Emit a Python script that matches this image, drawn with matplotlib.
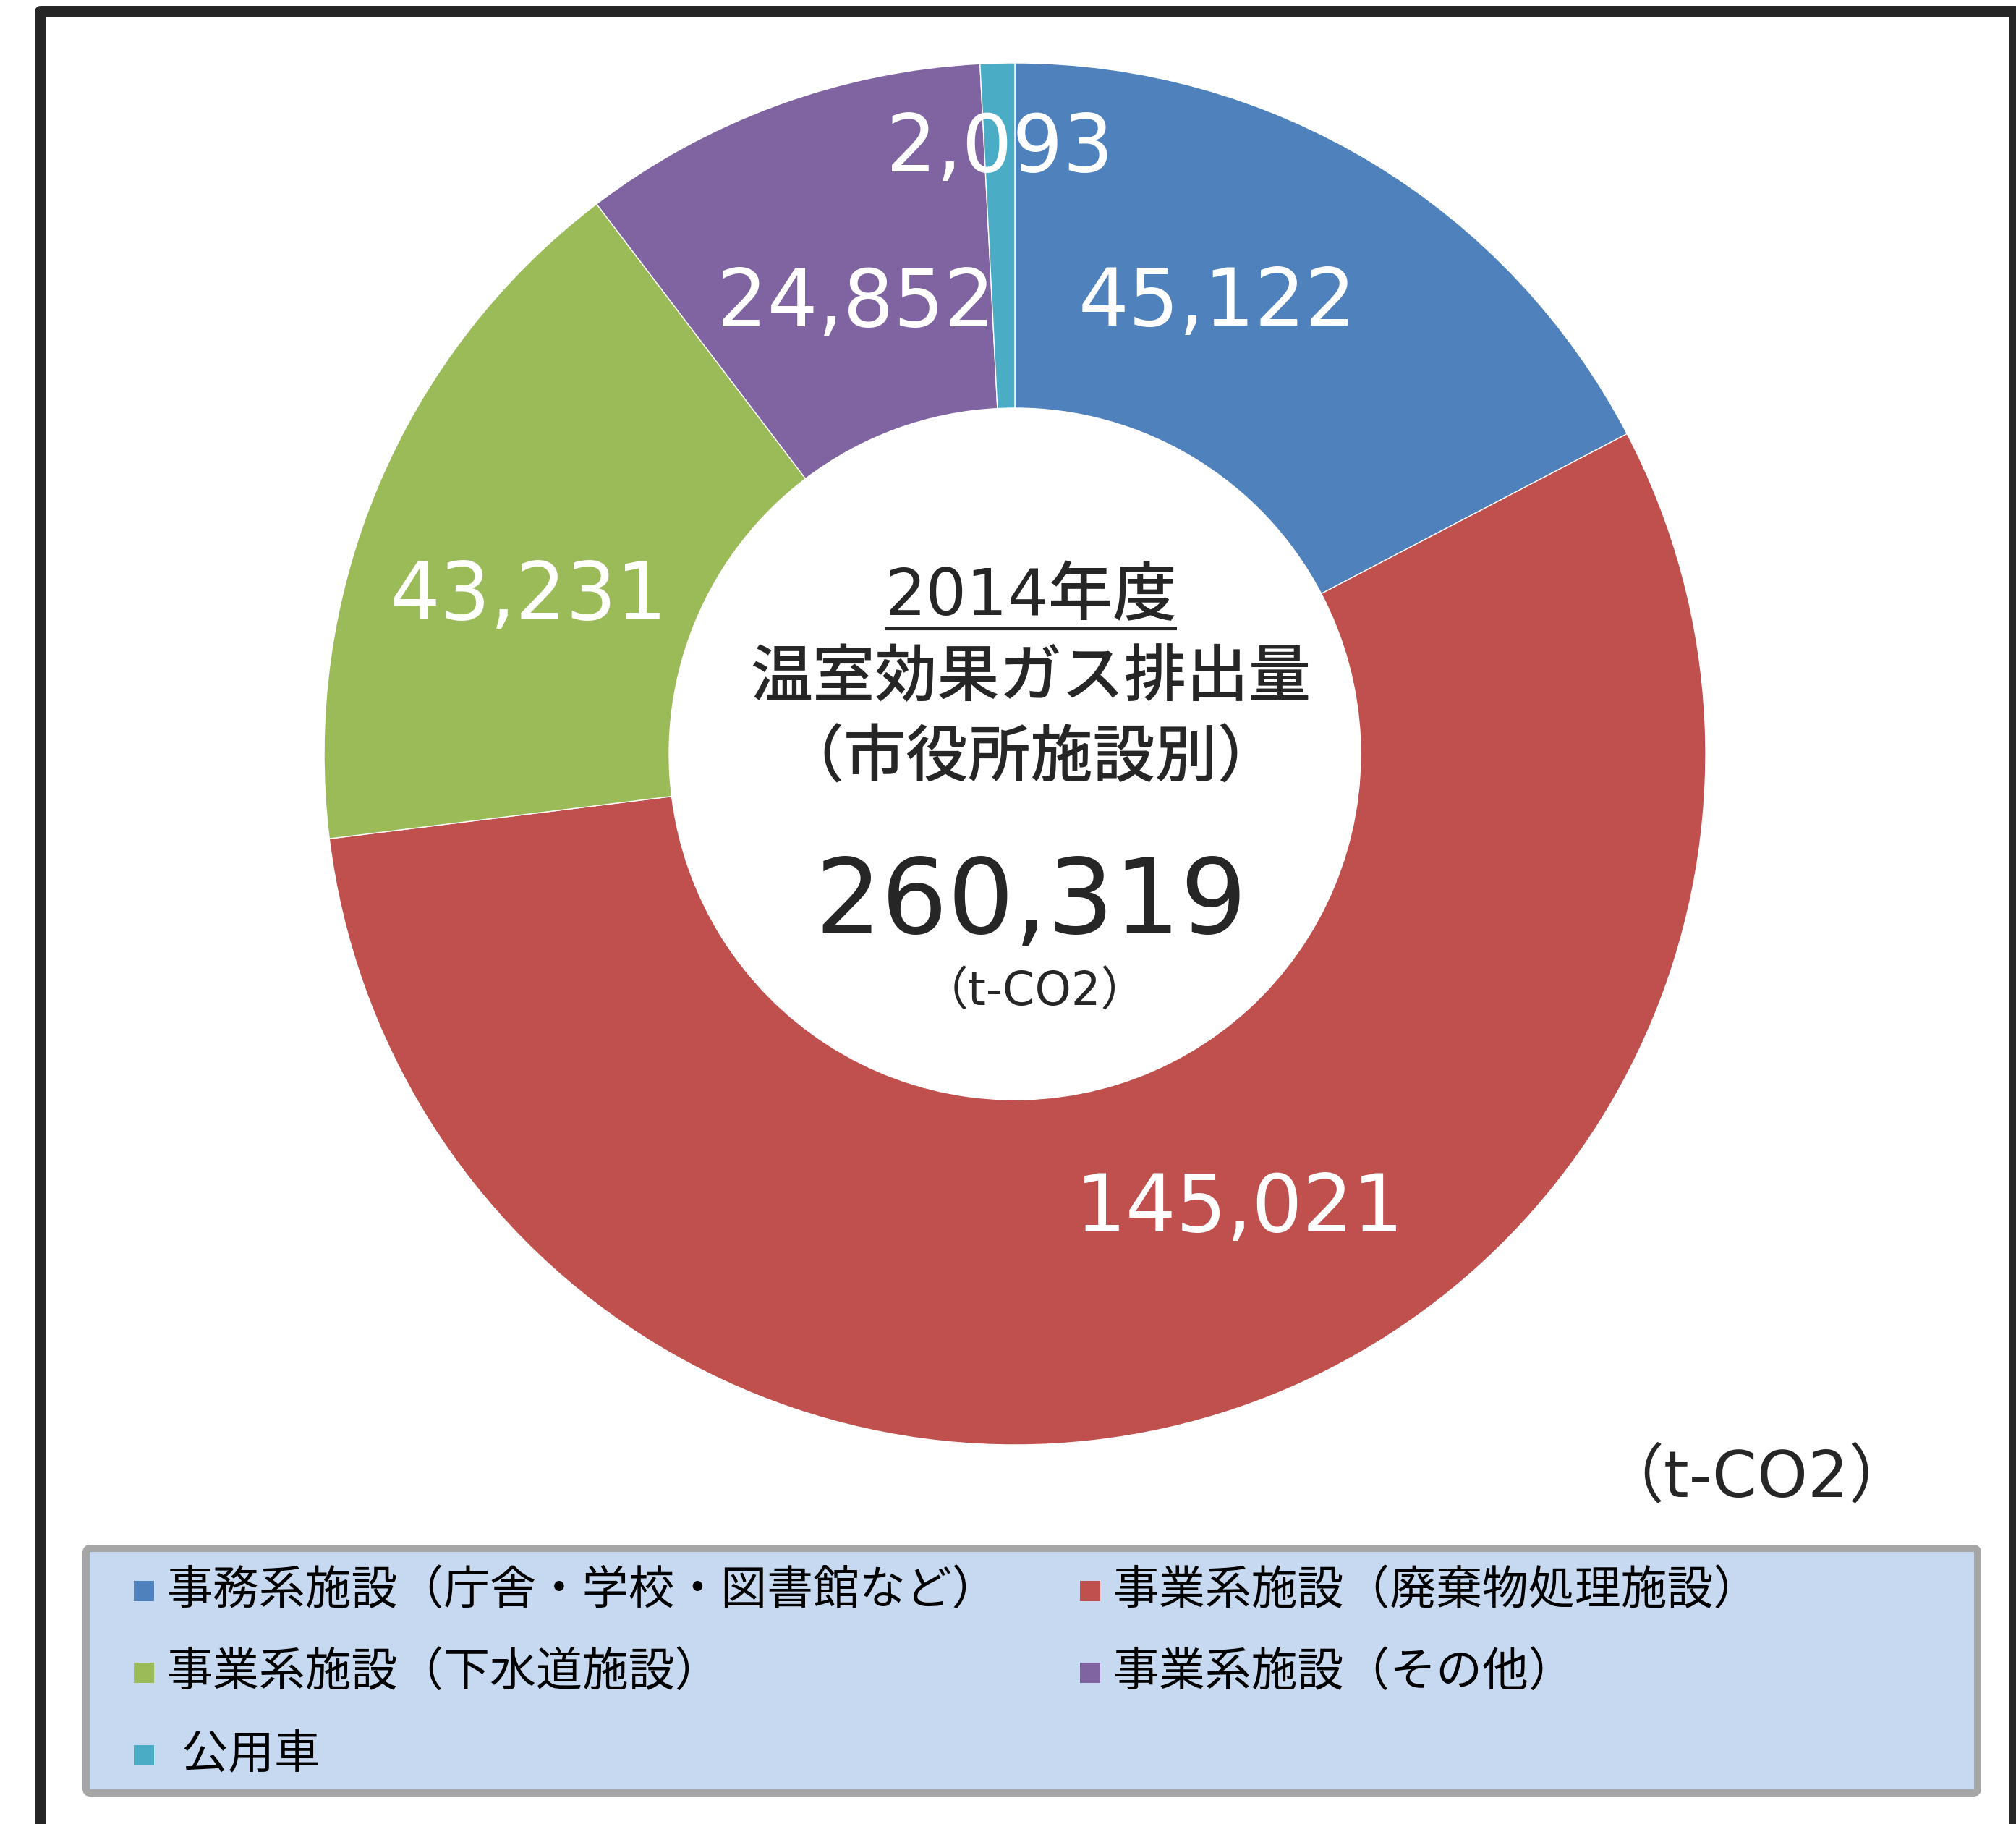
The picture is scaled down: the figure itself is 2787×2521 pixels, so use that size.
import matplotlib
matplotlib.use('Agg')
import matplotlib.pyplot as plt
from matplotlib.patches import Rectangle, FancyBboxPatch
import numpy as np

# data
categories = ['事務系施設（庁舎・学校・図書館など）', '事業系施設（廃棄物処理施設）',
              '事業系施設（下水道施設）', '事業系施設（その他）', ' 公用車']
values = [45122, 145021, 43231, 24852, 2093]
colors = ['#4f81bd', '#c0504d', '#9bbb59', '#8064a2', '#4bacc6']
year_title = '2014年度'
title_lines = ['温室効果ガス排出量', '（市役所施設別）']
unit = '（t-CO2）'

plt.rcParams['font.family'] = ['DejaVu Sans', 'Noto Sans CJK JP']
TXT = '#262626'

W, H = 2787, 2521
fig = plt.figure(figsize=(W / 100, H / 100), dpi=100)
ax = fig.add_axes([0, 0, 1, 1])


def Y(y):
    # pixel rows counted from the top
    return H - y


# doughnut
cx, cy = 1403, 1042
R, r_in = 955, 478
ax.pie(values, colors=colors, startangle=90, counterclock=False, radius=R,
       center=(cx, Y(cy)),
       wedgeprops=dict(width=R - r_in, edgecolor='white', linewidth=1.0))

# value labels (small nudges like the hand placed ones in the original)
label_shift = [-7, -9, -5, 0.6, 0]
label_r = [0.715, 0.735, 0.74, 0.69, 0.875]
total = sum(values)
cum = 0
for v, sh, rr in zip(values, label_shift, label_r):
    a = np.deg2rad(360 * (cum + v / 2) / total + sh)
    cum += v
    ax.text(cx + rr * R * np.sin(a), Y(cy) + rr * R * np.cos(a), f'{v:,}',
            ha='center', va='center', color='white', fontsize=79)

# centre text
tx = 1425
t_year = ax.text(tx, Y(826), year_title, ha='center', va='center',
                 fontsize=64, color=TXT, fontweight='medium')
ax.text(tx, Y(939), title_lines[0], ha='center', va='center', fontsize=62,
        color=TXT, fontweight='medium')
ax.text(tx, Y(1050), title_lines[1], ha='center', va='center', fontsize=62,
        color=TXT, fontweight='medium')
ax.text(tx, Y(1250), f'{total:,}', ha='center', va='center', fontsize=104, color=TXT)
ax.text(tx + 5, Y(1371), unit, ha='center', va='center', fontsize=46, color=TXT)
ax.text(2645, Y(2044), unit, ha='right', va='center', fontsize=64, color=TXT)

ax.set_xlim(0, W)
ax.set_ylim(0, H)
ax.set_aspect('auto')
ax.axis('off')

# underline below the year
fig.canvas.draw()
bb = t_year.get_window_extent().transformed(ax.transData.inverted())
ax.plot([bb.x0, bb.x1], [Y(869), Y(869)], color=TXT, lw=3, solid_capstyle='butt')

# outer frame
ax.add_patch(Rectangle((56, -60), 2786 - 56, Y(16) + 60, fill=False,
                       edgecolor=TXT, lw=11.5, joinstyle='round'))

# legend box
ax.add_patch(FancyBboxPatch((119, Y(2478)), 2734 - 119, 2478 - 2140,
                            boxstyle='round,pad=0,rounding_size=6',
                            facecolor='#c6d9f0', edgecolor='#a6a6a6', lw=7.2))
col_x = [199, 1507]
row_y = [2199, 2312, 2426]
for i, (lab, c) in enumerate(zip(categories, colors)):
    x = col_x[i % 2]
    y = Y(row_y[i // 2])
    ax.scatter([x], [y], marker='s', s=400, c=c, linewidths=0)
    ax.text(x + 32, y, lab, ha='left', va='center', fontsize=46, color='black')

fig.savefig('out.png', dpi=100, facecolor='white')
